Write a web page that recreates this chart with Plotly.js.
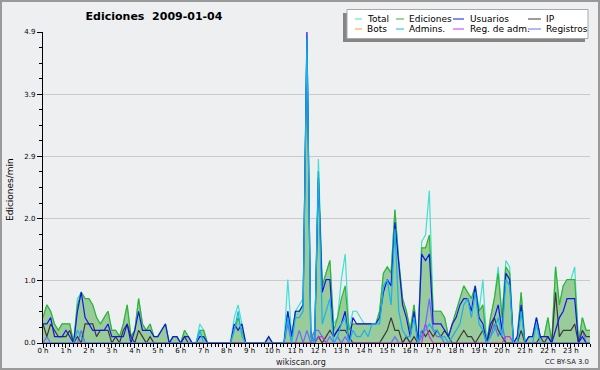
<!DOCTYPE html>
<html>
<head>
<meta charset="utf-8">
<script src="https://cdn.plot.ly/plotly-3.0.1.min.js"></script>
<style>
html,body{margin:0;padding:0;background:#eeeff1;}
#chart{width:600px;height:370px;}
</style>
</head>
<body>
<div id="chart"></div>
<script>
// 10-minute bins, values in edits per minute (one row per hour)
const ediciones = [
 0.4,0.6,0.5,0.3,0.2,0.3,
 0.3,0.3,0.0,0.6,0.8,0.7,
 0.7,0.6,0.4,0.3,0.4,0.5,
 0.2,0.2,0.1,0.3,0.6,0.1,
 0.2,0.7,0.3,0.2,0.3,0.1,
 0.1,0.2,0.3,0.0,0.1,0.1,
 0.0,0.2,0.1,0.0,0.0,0.2,
 0.2,0.0,0.0,0.0,0.0,0.0,
 0.0,0.0,0.2,0.4,0.2,0.0,
 0.0,0.0,0.0,0.0,0.0,0.1,
 0.0,0.0,0.0,0.0,0.5,0.1,
 0.5,0.5,0.6,4.8,0.2,0.0,
 2.7,0.9,1.1,1.3,0.2,0.4,
 0.7,0.9,0.2,0.3,0.3,0.3,
 0.3,0.3,0.3,0.3,0.5,1.1,
 1.2,1.1,2.1,1.3,0.7,0.5,
 0.2,0.6,0.0,1.5,1.5,1.7,
 0.5,0.5,0.5,0.4,0.1,0.3,
 0.5,0.7,0.9,0.8,0.7,0.9,
 0.5,0.6,0.0,0.4,0.7,1.1,
 0.4,1.2,1.1,0.0,0.1,0.8,
 0.0,0.1,0.1,0.4,0.1,0.1,
 0.4,0.0,1.2,0.6,0.9,1.0,
 1.0,1.0,0.0,0.4,0.2,0.2
];
const total = [
 0.4,0.6,0.5,0.3,0.2,0.3,
 0.3,0.3,0.0,0.7,0.8,0.7,
 0.7,0.6,0.4,0.3,0.4,0.5,
 0.2,0.2,0.1,0.3,0.6,0.1,
 0.2,0.7,0.3,0.2,0.3,0.1,
 0.1,0.2,0.3,0.0,0.1,0.1,
 0.0,0.2,0.1,0.0,0.0,0.3,
 0.2,0.0,0.0,0.0,0.0,0.0,
 0.0,0.0,0.4,0.6,0.3,0.0,
 0.0,0.0,0.0,0.0,0.0,0.1,
 0.0,0.0,0.0,0.0,1.0,0.1,
 0.5,0.6,0.7,4.8,0.2,0.0,
 2.9,0.9,1.1,1.3,0.3,0.4,
 1.0,1.4,0.2,0.5,0.5,0.4,
 0.3,0.3,0.3,0.3,0.5,1.1,
 1.2,1.1,2.1,1.3,0.7,0.5,
 0.2,0.6,0.0,1.6,1.7,2.4,
 0.5,0.5,0.5,0.4,0.1,0.3,
 0.5,0.7,0.9,0.8,0.7,0.9,
 0.5,1.0,0.0,0.4,0.7,1.2,
 0.4,1.3,1.2,0.0,0.1,0.8,
 0.0,0.1,0.1,0.4,0.1,0.1,
 0.4,0.0,1.2,0.6,0.9,1.0,
 1.0,1.2,0.0,0.4,0.2,0.2
];
const usuarios = [
 0.3,0.3,0.4,0.1,0.1,0.1,
 0.2,0.1,0.0,0.5,0.8,0.4,
 0.3,0.2,0.2,0.2,0.2,0.3,
 0.1,0.1,0.1,0.1,0.3,0.0,
 0.2,0.5,0.2,0.2,0.2,0.1,
 0.1,0.2,0.3,0.0,0.1,0.1,
 0.0,0.1,0.1,0.0,0.0,0.1,
 0.1,0.0,0.0,0.0,0.0,0.0,
 0.0,0.0,0.3,0.2,0.3,0.0,
 0.0,0.0,0.0,0.0,0.0,0.1,
 0.0,0.0,0.0,0.0,0.5,0.1,
 0.5,0.5,0.6,4.9,0.1,0.0,
 2.6,0.8,1.0,1.0,0.1,0.2,
 0.3,0.5,0.0,0.4,0.3,0.3,
 0.3,0.3,0.3,0.3,0.4,0.8,
 1.0,0.9,1.9,1.2,0.6,0.4,
 0.1,0.5,0.0,1.4,1.3,1.4,
 0.3,0.3,0.3,0.2,0.1,0.3,
 0.4,0.6,0.7,0.7,0.5,0.9,
 0.4,0.3,0.0,0.3,0.4,0.6,
 0.2,1.1,1.0,0.0,0.1,0.6,
 0.0,0.1,0.1,0.4,0.1,0.1,
 0.1,0.0,0.2,0.4,0.5,0.7,
 0.7,0.7,0.0,0.1,0.0,0.0
];
const ip = [
 0.3,0.1,0.3,0.2,0.1,0.1,
 0.1,0.2,0.0,0.1,0.0,0.3,
 0.3,0.3,0.1,0.2,0.2,0.2,
 0.0,0.1,0.0,0.2,0.3,0.1,
 0.0,0.2,0.1,0.0,0.1,0.0,
 0.0,0.0,0.0,0.0,0.0,0.0,
 0.0,0.1,0.0,0.0,0.0,0.0,
 0.0,0.0,0.0,0.0,0.0,0.0,
 0.0,0.0,0.0,0.0,0.0,0.0,
 0.0,0.0,0.0,0.0,0.0,0.0,
 0.0,0.0,0.0,0.0,0.0,0.0,
 0.0,0.0,0.0,0.0,0.0,0.0,
 0.1,0.0,0.1,0.2,0.1,0.2,
 0.2,0.2,0.1,0.0,0.0,0.0,
 0.0,0.0,0.0,0.0,0.0,0.1,
 0.2,0.4,0.2,0.2,0.0,0.1,
 0.0,0.1,0.0,0.2,0.1,0.2,
 0.1,0.2,0.1,0.2,0.1,0.0,
 0.0,0.1,0.2,0.1,0.1,0.0,
 0.1,0.2,0.0,0.2,0.4,0.2,
 0.1,0.0,0.0,0.0,0.0,0.2,
 0.0,0.0,0.0,0.0,0.1,0.0,
 0.1,0.0,0.8,0.1,0.2,0.2,
 0.2,0.3,0.0,0.2,0.1,0.1
];
const admins = [
 0.0,0.0,0.0,0.0,0.0,0.0,
 0.0,0.0,0.0,0.2,0.1,0.0,
 0.0,0.0,0.0,0.0,0.0,0.0,
 0.0,0.0,0.0,0.0,0.0,0.0,
 0.0,0.0,0.0,0.0,0.0,0.0,
 0.0,0.0,0.0,0.0,0.0,0.0,
 0.0,0.0,0.0,0.0,0.0,0.2,
 0.0,0.0,0.0,0.0,0.0,0.0,
 0.0,0.0,0.2,0.5,0.1,0.0,
 0.0,0.0,0.0,0.0,0.0,0.0,
 0.0,0.0,0.0,0.0,0.4,0.0,
 0.4,0.4,0.5,4.8,0.1,0.0,
 2.7,0.3,0.5,0.7,0.0,0.1,
 0.3,0.4,0.0,0.2,0.1,0.1,
 0.2,0.1,0.3,0.3,0.3,0.9,
 1.0,0.6,1.8,0.5,0.2,0.1,
 0.1,0.4,0.0,0.2,0.2,0.3,
 0.2,0.2,0.1,0.1,0.0,0.1,
 0.2,0.3,0.6,0.7,0.4,0.8,
 0.3,0.2,0.0,0.1,0.2,0.4,
 0.1,1.0,0.9,0.0,0.0,0.5,
 0.0,0.0,0.0,0.3,0.0,0.0,
 0.0,0.0,0.0,0.0,0.0,0.0,
 0.0,0.0,0.0,0.0,0.0,0.0
];
const registros = [
 0.0,0.1,0.0,0.0,0.0,0.0,
 0.0,0.0,0.0,0.0,0.2,0.0,
 0.0,0.0,0.0,0.0,0.0,0.0,
 0.0,0.0,0.0,0.0,0.0,0.0,
 0.0,0.0,0.0,0.0,0.0,0.0,
 0.0,0.0,0.0,0.0,0.0,0.0,
 0.0,0.0,0.0,0.0,0.0,0.0,
 0.0,0.0,0.0,0.0,0.0,0.0,
 0.0,0.0,0.0,0.0,0.0,0.0,
 0.0,0.0,0.0,0.0,0.0,0.0,
 0.0,0.0,0.0,0.0,0.3,0.0,
 0.0,0.2,0.0,0.2,0.0,0.2,
 0.2,0.1,0.0,0.1,0.0,0.1,
 0.0,0.1,0.0,0.0,0.0,0.0,
 0.0,0.0,0.0,0.0,0.0,0.0,
 0.0,0.0,0.1,0.0,0.0,0.1,
 0.0,0.0,0.0,0.1,0.3,0.7,
 0.2,0.1,0.1,0.0,0.0,0.0,
 0.0,0.0,0.0,0.0,0.0,0.0,
 0.0,0.0,0.0,0.1,0.3,0.1,
 0.3,0.0,0.0,0.0,0.0,0.0,
 0.0,0.0,0.0,0.0,0.0,0.0,
 0.0,0.0,0.0,0.0,0.0,0.0,
 0.0,0.0,0.0,0.2,0.0,0.0
];
const regAdm = [
 0,0,0,0,0,0, 0,0,0,0,0,0, 0,0,0,0,0,0, 0,0,0,0,0,0,
 0,0,0,0,0,0, 0,0,0,0,0,0, 0,0,0,0,0,0, 0,0,0,0,0,0,
 0,0,0,0,0,0, 0,0,0,0,0,0, 0,0,0,0,0,0, 0,0,0,0,0,0,
 0.1,0.1,0,0,0,0, 0,0,0,0,0,0, 0,0,0,0,0,0, 0,0,0,0,0,0,
 0,0,0,0,0.3,0.1, 0,0,0,0,0,0, 0,0,0,0,0,0, 0,0,0,0,0,0,
 0,0.1,0.1,0,0,0, 0,0,0,0,0,0, 0,0,0,0,0,0, 0,0,0,0,0,0
];
const bots = new Array(ediciones.length).fill(0);

const hourTicks = [0,1,2,3,4,5,6,7,8,9,10,11,12,13,14,15,16,17,18,19,20,21,22,23];
const hourLabels = ["0 h","1 h","2 h","3 h","4 h","5 h","6 h","7 h","8 h","9 h","10 h","11 h",
  "12 h","13 h","14 h","15 h","16 h","17 h","18 h","19 h","20 h","21 h","22 h","23 h"];
const yTicks = [0, 0.98, 1.96, 2.94, 3.92, 4.9];
const yLabels = ["0.0","1.0","2.0","2.9","3.9","4.9"];

const seriesNames = ["Total","Ediciones","Usuarios","IP","Bots","Admins.","Reg. de adm.","Registros"];
const seriesColors = ["#40e0d0","#33b333","#1414ee","#3a3a3a","#ff9a1a","#14b4ee","#cc33ee","#6a6aff"];

const x = ediciones.map((_, i) => i / 6); // bin start, in hours

function line(y, idx, extra) {
  return Object.assign({
    type: 'scatter', mode: 'lines', x: x, y: y, name: seriesNames[idx],
    line: {color: seriesColors[idx], width: 1.2}, hoverinfo: 'skip'
  }, extra || {});
}

const traces = [
  line(total, 0),
  line(ediciones, 1, {fill: 'tozeroy', fillcolor: '#9acb9a'}),
  line(bots, 4),
  line(registros, 7),
  line(ip, 3),
  line(regAdm, 6),
  line(usuarios, 2),
  line(admins, 5)
];

// pixel helpers for decorations (plot area: x 43..590, y 32..343)
const L = 43, R = 590, T = 32, B = 343;
const px = v => (v - L) / (R - L);
const py = v => (B - v) / (B - T);

const shapes = [
  {type:'rect', xref:'paper', yref:'paper', x0:px(1), x1:px(599), y0:py(1), y1:py(369),
   line:{color:'#9a9a9a', width:2}, layer:'above'},
  {type:'rect', xref:'paper', yref:'paper', x0:px(343), x1:px(585), y0:py(13), y1:py(42),
   fillcolor:'#858585', line:{width:0}, layer:'above'},
  {type:'rect', xref:'paper', yref:'paper', x0:px(347), x1:px(588), y0:py(9.5), y1:py(38.5),
   fillcolor:'#ffffff', line:{color:'#a8a8a8', width:1}, layer:'above'}
];
const annotations = [
  {text:'Ediciones/min', xref:'paper', yref:'paper', x:px(10), y:py(190), textangle:-90,
   showarrow:false, xanchor:'center', yanchor:'middle', font:{size:9, family:'DejaVu Sans', color:'#000'}},
  {text:'wikiscan.org', xref:'paper', yref:'paper', x:px(301), y:py(362), showarrow:false,
   xanchor:'center', yanchor:'middle', font:{size:8, family:'DejaVu Sans', color:'#222'}},
  {text:'CC BY-SA 3.0', xref:'paper', yref:'paper', x:px(591), y:py(362), showarrow:false,
   xanchor:'right', yanchor:'middle', font:{size:6.8, family:'DejaVu Sans', color:'#222'}}
];
// legend (4 columns x 2 rows)
const legCols = [[355, 362, 366], [396, 404, 407.5], [453, 464, 468.5], [528, 541, 544.5]];
const legRows = [19, 29];
seriesNames.forEach((nm, k) => {
  const c = legCols[k % 4], r = legRows[Math.floor(k / 4)];
  shapes.push({type:'line', xref:'paper', yref:'paper', x0:px(c[0]), x1:px(c[1]), y0:py(r), y1:py(r),
    line:{color:seriesColors[k], width:1}, layer:'above'});
  annotations.push({text:nm, xref:'paper', yref:'paper', x:px(c[2]), y:py(r), showarrow:false,
    xanchor:'left', yanchor:'middle', borderpad:0, font:{size:9, family:'DejaVu Sans', color:'#000'}});
});

const layout = {
  width: 600, height: 370,
  margin: {l: L, r: 600 - R, t: T, b: 370 - B, pad: 0},
  paper_bgcolor: '#eeeff1', plot_bgcolor: '#eeeff1',
  showlegend: false,
  font: {family: 'DejaVu Sans', size: 7, color: '#000'},
  title: {text: '<b>Ediciones\u00a0 2009-01-04</b>', x: 154/600, xanchor: 'center',
          y: 1 - 16/370, yanchor: 'middle', xref: 'container', yref: 'container',
          font: {family: 'DejaVu Sans', size: 11, color: '#000'}},
  xaxis: {range: [0, 143/6], tickmode: 'array', tickvals: hourTicks, ticktext: hourLabels,
          ticks: 'outside', ticklen: 4, tickwidth: 1, tickcolor: '#000', ticklabelstandoff: -4,
          showline: true, linecolor: '#000', linewidth: 1.2, showgrid: false, zeroline: false,
          tickfont: {size: 7, family: 'DejaVu Sans'}, fixedrange: true,
          minor: {dtick: 1/6, tick0: 0, ticks: 'outside', ticklen: 3, tickcolor: '#000', tickwidth: 1, showgrid: false}},
  yaxis: {range: [0, 4.9], tickmode: 'array', tickvals: yTicks, ticktext: yLabels,
          ticks: 'outside', ticklen: 5, tickwidth: 1, tickcolor: '#000',
          showline: true, linecolor: '#000', linewidth: 1.2, showgrid: true, gridcolor: '#cacaca', gridwidth: 1,
          zeroline: false, tickfont: {size: 7, family: 'DejaVu Sans'}, fixedrange: true,
          minor: {dtick: 0.245, tick0: 0, ticks: 'outside', ticklen: 3, tickcolor: '#000', tickwidth: 1, showgrid: false}},
  shapes: shapes,
  annotations: annotations
};

Plotly.newPlot('chart', traces, layout, {displayModeBar: false, staticPlot: true});
</script>
</body>
</html>
